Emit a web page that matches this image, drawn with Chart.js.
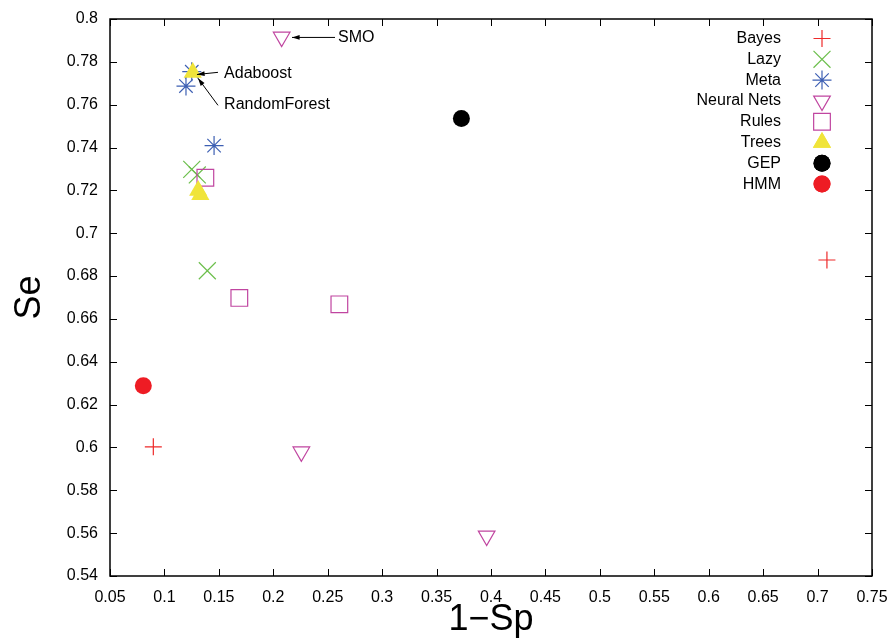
<!DOCTYPE html>
<html>
<head>
<meta charset="utf-8">
<script src="https://cdn.jsdelivr.net/npm/chart.js@4.4.1/dist/chart.umd.min.js"></script>
<style>
html,body{margin:0;padding:0;background:#fff;}
#wrap{width:893px;height:638px;position:relative;}
</style>
</head>
<body>
<div id="wrap"><canvas id="c" width="893" height="638"></canvas></div>
<script>
// classifier families, [1-Sp, Se] per point
const bayesX = [0.0898, 0.7086];
const bayesY = [0.6003, 0.6875];
const lazyX = [0.1251, 0.1302, 0.1394];
const lazyY = [0.7298, 0.7272, 0.6825];
const metaX = [0.1251, 0.1198, 0.1456];
const metaY = [0.7754, 0.7687, 0.7409];
const nnX = [0.2077, 0.2258, 0.396];
const nnY = [0.7916, 0.598, 0.5587];
const rulesX = [0.1376, 0.1688, 0.2607];
const rulesY = [0.7259, 0.6698, 0.6668];
const treesX = [0.126, 0.131, 0.133];
const treesY = [0.775, 0.720, 0.718];
const gepX = [0.3728];
const gepY = [0.7536];
const hmmX = [0.0806];
const hmmY = [0.6288];

const xTicks = [0.05,0.1,0.15,0.2,0.25,0.3,0.35,0.4,0.45,0.5,0.55,0.6,0.65,0.7,0.75];
const yTicks = [0.54,0.56,0.58,0.6,0.62,0.64,0.66,0.68,0.7,0.72,0.74,0.76,0.78,0.8];

// labelled points: text anchor and arrow, in data units
const noteText = ['SMO', 'Adaboost', 'RandomForest'];
const noteAt = [[0.2595,0.7914],[0.1548,0.7744],[0.1548,0.7599]];
const arrowFrom = [[0.2567,0.7914],[0.1492,0.7751],[0.1492,0.7597]];
const arrowTo = [[0.2172,0.7914],[0.1299,0.7741],[0.1309,0.7723]];

const FONT = "'Liberation Sans', Arial, Helvetica, sans-serif";

function pts(xs, ys){
	var out = [];
	for(var i = 0; i < xs.length; i++) out.push({x:xs[i], y:ys[i]});
	return out;
}
function ds(label, xs, ys, style, colour, radius, filled, rotation){
	return {
		label: label,
		data: pts(xs, ys),
		pointStyle: style,
		pointRadius: radius,
		pointHoverRadius: radius,
		pointRotation: rotation||0,
		borderColor: colour,
		backgroundColor: filled ? colour : 'rgba(0,0,0,0)',
		pointBorderWidth: filled ? 0 : 1.2
	};
}

const datasets = [
	ds('Bayes', bayesX, bayesY, 'cross', '#ee2a2a', 8.5, false),
	ds('Lazy', lazyX, lazyY, 'crossRot', '#6cbf4c', 12, false),
	ds('Meta', metaX, metaY, 'star', '#3d5fb3', 9.5, false),
	ds('Neural Nets', nnX, nnY, 'triangle', '#c045a0', 9.6, false, 180),
	ds('Rules', rulesX, rulesY, 'rect', '#c045a0', 11.8, false),
	ds('Trees', treesX, treesY, 'triangle', '#f0e43a', 10.5, true),
	ds('GEP', gepX, gepY, 'circle', '#000000', 8.5, true),
	ds('HMM', hmmX, hmmY, 'circle', '#ee1c24', 8.5, true)
];
// later series are plotted on top, as gnuplot does
datasets.forEach(function(d, i){ d.order = -i; });

// frame, inward mirrored ticks, legend and labels drawn like gnuplot
const gnuplotLook = {
	id: 'gnuplotLook',
	afterDatasetsDraw(chart){
		const ctx = chart.ctx, a = chart.chartArea;
		const xs = chart.scales.x, ys = chart.scales.y;
		const tl = 7;
		ctx.save();
		ctx.strokeStyle = '#000';
		ctx.lineWidth = 1;
		ctx.beginPath();
		xs.ticks.forEach(function(t){
			var px = Math.round(xs.getPixelForValue(t.value)) + 0.5;
			ctx.moveTo(px, a.bottom); ctx.lineTo(px, a.bottom - tl);
			ctx.moveTo(px, a.top); ctx.lineTo(px, a.top + tl);
		});
		ys.ticks.forEach(function(t){
			var py = Math.round(ys.getPixelForValue(t.value)) + 0.5;
			ctx.moveTo(a.left, py); ctx.lineTo(a.left + tl, py);
			ctx.moveTo(a.right, py); ctx.lineTo(a.right - tl, py);
		});
		ctx.stroke();
		ctx.lineWidth = 1.5;
		ctx.strokeRect(a.left, a.top, a.right - a.left, a.bottom - a.top);

		// point labels with arrows
		ctx.fillStyle = '#000';
		ctx.font = '16px ' + FONT;
		ctx.textAlign = 'left';
		ctx.textBaseline = 'middle';
		ctx.lineWidth = 1;
		for(var i = 0; i < noteText.length; i++){
			ctx.fillText(noteText[i], xs.getPixelForValue(noteAt[i][0]), ys.getPixelForValue(noteAt[i][1]));
			var x0 = xs.getPixelForValue(arrowFrom[i][0]), y0 = ys.getPixelForValue(arrowFrom[i][1]);
			var x1 = xs.getPixelForValue(arrowTo[i][0]), y1 = ys.getPixelForValue(arrowTo[i][1]);
			var ang = Math.atan2(y1 - y0, x1 - x0), h = 8, w = 0.3;
			ctx.beginPath();
			ctx.moveTo(x0, y0); ctx.lineTo(x1, y1);
			ctx.stroke();
			ctx.beginPath();
			ctx.moveTo(x1, y1);
			ctx.lineTo(x1 - h*Math.cos(ang - w), y1 - h*Math.sin(ang - w));
			ctx.lineTo(x1 - h*Math.cos(ang + w), y1 - h*Math.sin(ang + w));
			ctx.closePath();
			ctx.fill();
		}

		// legend: right aligned text, sample to the right
		ctx.textAlign = 'right';
		var textRight = a.right - 91, markX = a.right - 50, rowY = a.top + 19.5, step = 20.8;
		chart.data.datasets.forEach(function(d, k){
			var y = rowY + k*step;
			ctx.fillStyle = '#000';
			ctx.fillText(d.label, textRight, y);
			ctx.strokeStyle = d.borderColor;
			ctx.fillStyle = d.backgroundColor;
			ctx.lineWidth = d.pointBorderWidth;
			Chart.helpers.drawPoint(ctx, {pointStyle: d.pointStyle, radius: d.pointRadius, rotation: d.pointRotation, borderWidth: d.pointBorderWidth}, markX, y);
			if(d.backgroundColor !== 'rgba(0,0,0,0)') ctx.fill();
		});
		ctx.restore();
	}
};

new Chart(document.getElementById('c'), {
	type: 'scatter',
	data: {datasets: datasets},
	options: {
		responsive: false,
		animation: false,
		devicePixelRatio: 1,
		layout: {padding: {top: 19, right: 21, left: 0, bottom: 0}},
		plugins: {legend: {display: false}, tooltip: {enabled: false}},
		scales: {
			x: {
				type: 'linear',
				min: 0.05, max: 0.75,
				afterBuildTicks: function(s){ s.ticks = xTicks.map(function(v){ return {value: v}; }); },
				afterFit: function(s){ s.height = 62; s.paddingLeft = 0; s.paddingRight = 0; },
				grid: {display: false, drawTicks: false},
				border: {display: false},
				ticks: {color: '#000', font: {family: FONT, size: 16}, padding: 12, maxRotation: 0, autoSkip: false,
					callback: function(v){ return String(+v.toFixed(2)); }},
				title: {display: true, text: '1−Sp', color: '#000', font: {family: FONT, size: 36, lineHeight: 1}, padding: {top: 0, bottom: 0}}
			},
			y: {
				type: 'linear',
				min: 0.54, max: 0.8,
				afterBuildTicks: function(s){ s.ticks = yTicks.map(function(v){ return {value: v}; }); },
				afterFit: function(s){ s.width = 110; s.paddingTop = 0; s.paddingBottom = 0; },
				grid: {display: false, drawTicks: false},
				border: {display: false},
				ticks: {color: '#000', font: {family: FONT, size: 16}, padding: 12, autoSkip: false,
					callback: function(v){ return String(+v.toFixed(2)); }},
				title: {display: true, text: 'Se', color: '#000', font: {family: FONT, size: 36, lineHeight: 1}, padding: {top: 12, bottom: 0}}
			}
		}
	},
	plugins: [gnuplotLook]
});
</script>
</body>
</html>
